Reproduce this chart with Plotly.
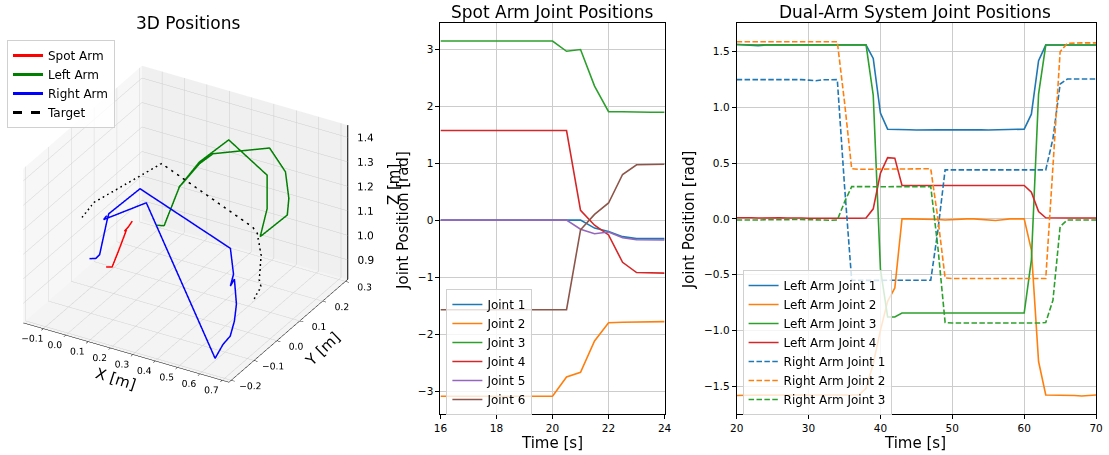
import plotly.graph_objects as go

W, H = 1109, 455
FONT = "DejaVu Sans"

spot_x = [0.021, 0.048, 0.080, 0.112, 0.103, 0.120, 0.138]
spot_y = [-0.054, -0.054, -0.054, -0.054, -0.054, -0.054, -0.054]
spot_z = [0.978, 0.985, 1.067, 1.153, 1.146, 1.167, 1.196]

left_x = [-0.010, 0.021, 0.092, 0.086, 0.098, 0.179, 0.310, 0.482, 0.482, 0.451,
          0.572, 0.579, 0.564, 0.493, 0.240, 0.179, 0.096]
left_y = [0.200, 0.200, 0.200, 0.200, 0.200, 0.200, 0.200, 0.200, 0.200, 0.200,
          0.200, 0.200, 0.200, 0.200, 0.200, 0.200, 0.200]
left_z = [0.935, 0.941, 1.124, 1.112, 1.130, 1.243, 1.368, 1.269, 1.133, 1.010,
          1.130, 1.200, 1.304, 1.383, 1.293, 1.236, 1.126]

right_x = [-0.006, 0.022, 0.039, 0.071, 0.080, 0.220, 0.624, 0.638, 0.624, 0.642,
           0.651, 0.642, 0.656, 0.645, 0.625, 0.248, 0.057, 0.071]
right_y = [-0.100, -0.100, -0.100, -0.100, -0.100, -0.100, -0.100, -0.100, -0.100, -0.100,
           -0.100, -0.100, -0.132, -0.153, -0.168, -0.100, -0.100, -0.100]
right_z = [1.042, 1.050, 1.070, 1.213, 1.248, 1.387, 1.250, 1.148, 1.096, 1.129,
           1.029, 0.958, 0.926, 0.906, 0.856, 1.337, 1.218, 1.238]

target_x = [-0.149, -0.095, 0.207, 0.614, 0.635, 0.652, 0.644, 0.652, 0.635, 0.614]
target_y = [0.007, 0.007, 0.007, 0.007, 0.007, 0.007, 0.007, 0.007, 0.007, 0.007]
target_z = [1.086, 1.162, 1.400, 1.248, 1.228, 1.143, 1.039, 1.013, 0.984, 0.943]

x_range3d = [-0.19, 0.73]
y_range3d = [-0.21, 0.31]
z_range3d = [0.82, 1.45]
x_ticks3d = [-0.1, 0.0, 0.1, 0.2, 0.3, 0.4, 0.5, 0.6, 0.7]
y_ticks3d = [-0.2, -0.1, 0.0, 0.1, 0.2, 0.3]
z_ticks3d = [0.9, 1.0, 1.1, 1.2, 1.3, 1.4]

spot_t = [16.0, 16.5, 17.0, 17.5, 18.0, 18.5, 19.0, 19.5, 20.0, 20.5,
          21.0, 21.5, 22.0, 22.5, 23.0, 23.5, 24.0]
spot_j1 = [0, 0, 0, 0, 0, 0, 0, 0, 0, 0, 0.0, -0.14, -0.20, -0.29, -0.325, -0.325, -0.325]
spot_j2 = [-3.09, -3.09, -3.09, -3.09, -3.09, -3.09, -3.09, -3.09, -3.09, -2.75,
           -2.67, -2.12, -1.80, -1.79, -1.785, -1.78, -1.78]
spot_j3 = [3.14, 3.14, 3.14, 3.14, 3.14, 3.14, 3.14, 3.14, 3.14, 2.96,
           2.99, 2.35, 1.90, 1.90, 1.89, 1.89, 1.89]
spot_j4 = [1.571, 1.571, 1.571, 1.571, 1.571, 1.571, 1.571, 1.571, 1.571, 1.571,
           0.17, -0.09, -0.26, -0.74, -0.92, -0.93, -0.93]
spot_j5 = [0, 0, 0, 0, 0, 0, 0, 0, 0, 0, -0.16, -0.24, -0.21, -0.31, -0.345, -0.35, -0.35]
spot_j6 = [-1.571, -1.571, -1.571, -1.571, -1.571, -1.571, -1.571, -1.571, -1.571, -1.571,
           -0.17, 0.10, 0.30, 0.80, 0.97, 0.975, 0.98]

dual_t = [20, 21, 22, 23, 24, 25, 26, 27, 28, 29,
          30, 31, 32, 33, 34, 35, 36, 37, 38, 39,
          40, 41, 42, 43, 44, 45, 46, 47, 48, 49,
          50, 51, 52, 53, 54, 55, 56, 57, 58, 59,
          60, 61, 62, 63, 64, 65, 66, 67, 68, 69, 70]
left_j1 = [1.565, 1.562, 1.560, 1.555, 1.560, 1.562, 1.560, 1.561, 1.560, 1.560,
           1.561, 1.560, 1.560, 1.562, 1.561, 1.560, 1.560, 1.560, 1.560, 1.440,
           0.950, 0.805, 0.805, 0.802, 0.800, 0.798, 0.800, 0.800, 0.800, 0.799,
           0.800, 0.800, 0.800, 0.802, 0.800, 0.798, 0.800, 0.800, 0.802, 0.803,
           0.805, 0.940, 1.420, 1.560, 1.560, 1.560, 1.561, 1.560, 1.560, 1.560, 1.560]
left_j2 = [-1.585, -1.582, -1.580, -1.580, -1.582, -1.580, -1.580, -1.581, -1.580, -1.580,
           -1.580, -1.581, -1.580, -1.580, -1.580, -1.580, -1.580, -1.580, -1.520, -1.300,
           -1.000, -0.740, -0.620, 0.000, 0.000, 0.000, 0.000, 0.000, -0.005, -0.010,
           -0.005, 0.000, 0.000, 0.000, -0.005, -0.010, -0.015, -0.008, 0.000, 0.000,
           0.000, -0.280, -1.280, -1.580, -1.580, -1.580, -1.580, -1.585, -1.590, -1.585, -1.580]
left_j3 = [1.565, 1.562, 1.562, 1.561, 1.562, 1.562, 1.561, 1.562, 1.562, 1.562,
           1.562, 1.562, 1.562, 1.562, 1.562, 1.562, 1.562, 1.562, 1.562, 1.110,
           -0.450, -0.880, -0.880, -0.845, -0.845, -0.845, -0.845, -0.845, -0.845, -0.845,
           -0.845, -0.845, -0.845, -0.845, -0.845, -0.845, -0.845, -0.845, -0.845, -0.845,
           -0.845, -0.370, 1.120, 1.560, 1.560, 1.560, 1.561, 1.560, 1.560, 1.560, 1.560]
left_j4 = [0.010, 0.012, 0.010, 0.008, 0.010, 0.012, 0.010, 0.008, 0.010, 0.008,
           0.006, 0.005, 0.005, 0.005, 0.005, 0.006, 0.006, 0.006, 0.008, 0.090,
           0.410, 0.550, 0.545, 0.300, 0.300, 0.300, 0.298, 0.300, 0.298, 0.297,
           0.298, 0.300, 0.298, 0.297, 0.298, 0.300, 0.298, 0.297, 0.298, 0.300,
           0.300, 0.240, 0.065, 0.010, 0.008, 0.008, 0.008, 0.008, 0.008, 0.008, 0.008]
right_j1 = [1.250, 1.250, 1.250, 1.250, 1.250, 1.252, 1.253, 1.254, 1.255, 1.250,
            1.245, 1.240, 1.248, 1.252, 1.250, 0.300, -0.550, -0.552, -0.552, -0.552,
            -0.552, -0.552, -0.550, -0.550, -0.552, -0.553, -0.552, -0.550, -0.100, 0.440,
            0.440, 0.440, 0.440, 0.438, 0.438, 0.440, 0.440, 0.440, 0.440, 0.440,
            0.440, 0.440, 0.440, 0.440, 0.720, 1.210, 1.255, 1.255, 1.255, 1.255, 1.255]
right_j2 = [1.590, 1.590, 1.590, 1.590, 1.588, 1.588, 1.590, 1.590, 1.590, 1.590,
            1.590, 1.590, 1.590, 1.590, 1.590, 1.050, 0.450, 0.445, 0.445, 0.445,
            0.445, 0.445, 0.445, 0.445, 0.445, 0.445, 0.445, 0.450, 0.000, -0.530,
            -0.535, -0.535, -0.535, -0.535, -0.535, -0.535, -0.535, -0.535, -0.535, -0.535,
            -0.535, -0.535, -0.535, -0.535, 0.470, 1.500, 1.575, 1.580, 1.580, 1.580, 1.580]
right_j3 = [-0.010, -0.012, -0.010, -0.010, -0.008, -0.010, -0.010, -0.008, -0.005, -0.005,
            -0.008, -0.010, -0.010, -0.012, -0.010, 0.150, 0.290, 0.290, 0.288, 0.290,
            0.290, 0.288, 0.290, 0.290, 0.290, 0.288, 0.290, 0.290, -0.260, -0.930,
            -0.935, -0.935, -0.938, -0.940, -0.940, -0.940, -0.940, -0.938, -0.935, -0.935,
            -0.935, -0.935, -0.935, -0.930, -0.730, -0.070, -0.010, -0.010, -0.010, -0.010, -0.010]

spot_names = ["Joint 1", "Joint 2", "Joint 3", "Joint 4", "Joint 5", "Joint 6"]
dual_names = ["Left Arm Joint 1", "Left Arm Joint 2", "Left Arm Joint 3", "Left Arm Joint 4",
              "Right Arm Joint 1", "Right Arm Joint 2", "Right Arm Joint 3"]
tab10 = ["#1f77b4", "#ff7f0e", "#2ca02c", "#d62728", "#9467bd", "#8c564b"]

fig = go.Figure()

traj3d = [
    ("Spot Arm", spot_x, spot_y, spot_z, "red", "solid"),
    ("Left Arm", left_x, left_y, left_z, "green", "solid"),
    ("Right Arm", right_x, right_y, right_z, "blue", "solid"),
    ("Target", target_x, target_y, target_z, "black", "dash"),
]
for name, xs, ys, zs, col, dash in traj3d:
    fig.add_trace(go.Scatter3d(x=xs, y=ys, z=zs, mode="lines", name=name,
                               line=dict(color=col, width=3, dash=dash),
                               legend="legend", scene="scene"))

fig.add_trace(go.Scatter3d(
    x=[x_range3d[1], x_range3d[1]], y=[y_range3d[1], y_range3d[1]], z=z_range3d,
    mode="lines", line=dict(color="black", width=2), showlegend=False,
    hoverinfo="skip", scene="scene"))
fig.add_trace(go.Scatter3d(
    x=[x_range3d[1]] * len(z_ticks3d), y=[y_range3d[1]] * len(z_ticks3d), z=z_ticks3d,
    mode="text", text=["  %.1f" % v for v in z_ticks3d], textposition="middle right",
    textfont=dict(family=FONT, size=10.5, color="black"), showlegend=False,
    hoverinfo="skip", scene="scene"))

for i, ys in enumerate([spot_j1, spot_j2, spot_j3, spot_j4, spot_j5, spot_j6]):
    fig.add_trace(go.Scatter(x=spot_t, y=ys, mode="lines", name=spot_names[i],
                             line=dict(color=tab10[i], width=1.6),
                             xaxis="x", yaxis="y", legend="legend2"))

dual_series = [left_j1, left_j2, left_j3, left_j4, right_j1, right_j2, right_j3]
dual_cols = [tab10[0], tab10[1], tab10[2], tab10[3], tab10[0], tab10[1], tab10[2]]
for i, ys in enumerate(dual_series):
    fig.add_trace(go.Scatter(x=dual_t, y=ys, mode="lines", name=dual_names[i],
                             line=dict(color=dual_cols[i], width=1.6,
                                       dash="solid" if i < 4 else "5.5px,2.4px"),
                             xaxis="x2", yaxis="y2", legend="legend3"))

tickfont = dict(family=FONT, size=10.5, color="black")
axis2d = dict(showline=True, mirror=True, linecolor="black", linewidth=1,
              ticks="outside", ticklen=4, tickwidth=1, tickcolor="black",
              showgrid=True, gridcolor="#cccccc", gridwidth=1, zeroline=False,
              tickfont=tickfont)

def px(x):
    return x / W

def py(y):
    return 1 - y / H

scene_axis = dict(showbackground=True, gridcolor="rgb(205,205,205)", gridwidth=1,
                  showline=True, linecolor="black", linewidth=1, ticks="outside",
                  ticklen=4, tickcolor="black", tickangle=0,
                  tickfont=dict(family=FONT, size=10.5, color="black"),
                  showspikes=False, zeroline=False, title=dict(text=""), tickformat=".1f")

S = 1.25
SHIFT = 0.10  # pan along the screen-right direction
cx, cy = 0.866 * SHIFT, 0.5 * SHIFT
fig.update_layout(
    width=W, height=H, margin=dict(l=0, r=0, t=0, b=0),
    paper_bgcolor="white", plot_bgcolor="white",
    font=dict(family=FONT, size=12, color="black"),
    scene=dict(
        domain=dict(x=[0, px(400)], y=[py(414), py(34)]),
        xaxis=dict(scene_axis, range=x_range3d, tickvals=x_ticks3d, backgroundcolor="rgb(247,247,247)"),
        yaxis=dict(scene_axis, range=y_range3d, tickvals=y_ticks3d, backgroundcolor="rgb(240,240,240)"),
        zaxis=dict(scene_axis, range=z_range3d, tickvals=z_ticks3d, backgroundcolor="rgb(244,244,244)",
                   showline=False, showticklabels=False, ticks=""),
        aspectmode="manual", aspectratio=dict(x=1 * S, y=1 * S, z=0.75 * S),
        camera=dict(eye=dict(x=0.866 + cx, y=-1.5 + cy, z=1.0),
                    up=dict(x=0, y=0, z=1), center=dict(x=cx, y=cy, z=0),
                    projection=dict(type="orthographic")),
    ),
    xaxis=dict(axis2d, domain=[px(439), px(666)], range=[16, 24], tickvals=[16, 18, 20, 22, 24], anchor="y"),
    yaxis=dict(axis2d, domain=[py(414), py(23)], range=[-3.40, 3.456], tickvals=[-3, -2, -1, 0, 1, 2, 3], anchor="x"),
    xaxis2=dict(axis2d, domain=[px(739), px(1103)], range=[20, 70], tickvals=[20, 30, 40, 50, 60, 70], anchor="y2"),
    yaxis2=dict(axis2d, domain=[py(414), py(23)], range=[-1.751, 1.758],
                tickvals=[-1.5, -1.0, -0.5, 0.0, 0.5, 1.0, 1.5], tickformat=".1f", anchor="x2"),
    legend=dict(x=0, y=py(40), xanchor="left", yanchor="top",
                bgcolor="rgba(255,255,255,0.8)", bordercolor="#d0d0d0", borderwidth=1,
                font=dict(family=FONT, size=12)),
    legend2=dict(x=px(445), y=py(289), xanchor="left", yanchor="top",
                 bgcolor="rgba(255,255,255,0.8)", bordercolor="#d0d0d0", borderwidth=1,
                 font=dict(family=FONT, size=12)),
    legend3=dict(x=px(745), y=py(270), xanchor="left", yanchor="top",
                 bgcolor="rgba(255,255,255,0.8)", bordercolor="#d0d0d0", borderwidth=1,
                 font=dict(family=FONT, size=12)),
    showlegend=True,
)

ann = [
    ("3D Positions", 184, 23, 17, 0),
    ("Spot Arm Joint Positions", 552, 12, 17, 0),
    ("Dual-Arm System Joint Positions", 920, 12, 17, 0),
    ("Time [s]", 552, 443, 15, 0),
    ("Time [s]", 920, 443, 15, 0),
    ("Joint Position [rad]", 401, 220, 15, -90),
    ("Joint Position [rad]", 691, 220, 15, -90),
    ("Z [m]", 392, 185, 15, -90),
    ("X [m]", 110, 379, 15, 18),
    ("Y [m]", 320, 349, 15, -44),
]
for text, x, y, size, ang in ann:
    fig.add_annotation(text=text, x=px(x), y=py(y), xref="paper", yref="paper",
                       xanchor="center", yanchor="middle", showarrow=False,
                       textangle=ang, font=dict(family=FONT, size=size, color="black"))

fig.write_html("out.html", config={"displayModeBar": False},
               post_script="document.body.style.margin='0';")
